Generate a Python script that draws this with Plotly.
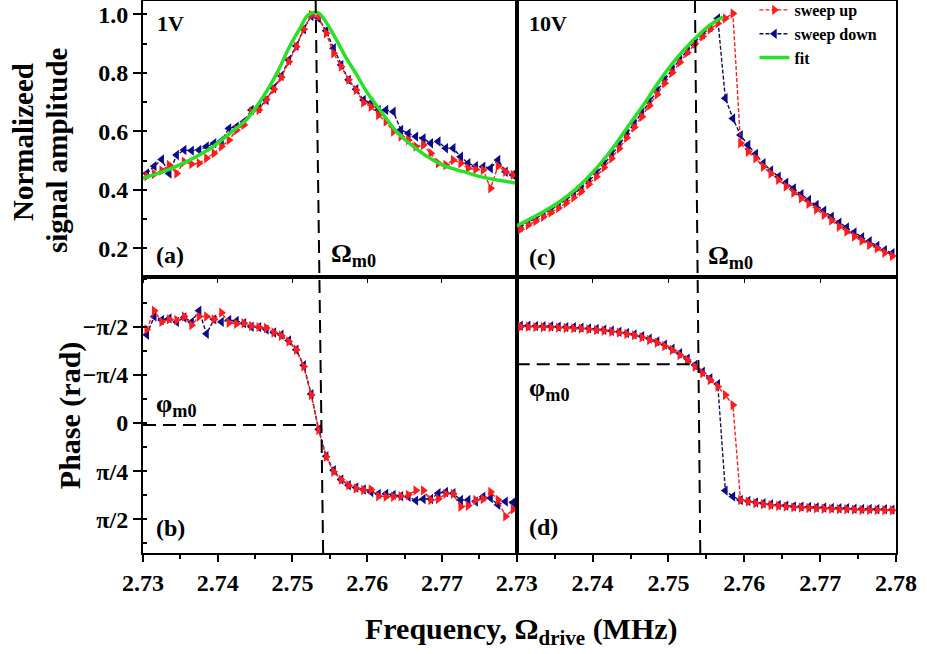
import plotly.graph_objects as go

# ---------------- data ----------------
freq = [2.7305, 2.7315, 2.7325, 2.7335, 2.7345, 2.7355, 2.7365, 2.7375, 2.7385, 2.7395,
        2.7405, 2.7415, 2.7425, 2.7435, 2.7445, 2.7455, 2.7465, 2.7475, 2.7485, 2.7495,
        2.7505, 2.7515, 2.7525, 2.7535, 2.7545, 2.7555, 2.7565, 2.7575, 2.7585, 2.7595,
        2.7605, 2.7615, 2.7625, 2.7635, 2.7645, 2.7655, 2.7665, 2.7675, 2.7685, 2.7695,
        2.7705, 2.7715, 2.7725, 2.7735, 2.7745, 2.7755, 2.7765, 2.7775, 2.7785, 2.7795]

amp_1V_up = [0.447, 0.454, 0.466, 0.485, 0.456, 0.496, 0.488, 0.491, 0.508, 0.525,
             0.548, 0.570, 0.604, 0.622, 0.667, 0.673, 0.709, 0.744, 0.785, 0.838,
             0.889, 0.949, 0.998, 0.992, 0.935, 0.867, 0.821, 0.776, 0.741, 0.698,
             0.684, 0.656, 0.633, 0.599, 0.582, 0.570, 0.548, 0.553, 0.525, 0.491,
             0.485, 0.502, 0.491, 0.474, 0.470, 0.468, 0.405, 0.481, 0.462, 0.451]
amp_1V_down = [0.456, 0.481, 0.504, 0.456, 0.519, 0.536, 0.534, 0.536, 0.548, 0.559,
               0.568, 0.610, 0.616, 0.633, 0.673, 0.679, 0.707, 0.747, 0.789, 0.844,
               0.892, 0.949, 0.994, 0.986, 0.944, 0.884, 0.827, 0.776, 0.744, 0.707,
               0.698, 0.673, 0.673, 0.667, 0.605, 0.593, 0.582, 0.576, 0.559, 0.565,
               0.542, 0.542, 0.513, 0.491, 0.481, 0.479, 0.474, 0.502, 0.462, 0.451]
fit_1V_freq = [2.7298, 2.7327, 2.7349, 2.7371, 2.7394, 2.7416, 2.7438, 2.7461, 2.7479, 2.7496,
               2.7510, 2.7521, 2.7534, 2.7546, 2.7559, 2.7572, 2.7586, 2.7599, 2.7617, 2.7639,
               2.7662, 2.7684, 2.7706, 2.7729, 2.7751, 2.7773, 2.7796, 2.7809]
fit_1V_amp = [0.439, 0.462, 0.485, 0.513, 0.548, 0.593, 0.639, 0.719, 0.798, 0.889,
              0.952, 0.998, 1.006, 0.969, 0.912, 0.850, 0.793, 0.736, 0.673, 0.599,
              0.548, 0.508, 0.479, 0.462, 0.445, 0.434, 0.424, 0.417]

amp_10V_up = [0.265, 0.280, 0.293, 0.308, 0.322, 0.338, 0.355, 0.374, 0.394, 0.419,
              0.445, 0.476, 0.507, 0.541, 0.578, 0.614, 0.650, 0.688, 0.726, 0.764,
              0.801, 0.836, 0.869, 0.899, 0.924, 0.949, 0.969, 0.986, 1.003, 0.559,
              0.530, 0.508, 0.479, 0.456, 0.434, 0.411, 0.390, 0.371, 0.352, 0.333,
              0.314, 0.295, 0.274, 0.257, 0.240, 0.226, 0.211, 0.200, 0.185, 0.174]
amp_10V_down = [0.274, 0.289, 0.303, 0.317, 0.331, 0.348, 0.366, 0.386, 0.405, 0.430,
                0.456, 0.487, 0.519, 0.553, 0.591, 0.626, 0.663, 0.700, 0.738, 0.776,
                0.812, 0.846, 0.878, 0.907, 0.932, 0.956, 0.986, 0.713, 0.644, 0.587,
                0.553, 0.523, 0.491, 0.466, 0.445, 0.424, 0.405, 0.385, 0.365, 0.348,
                0.329, 0.308, 0.288, 0.271, 0.254, 0.238, 0.224, 0.208, 0.194, 0.183]
fit_10V_freq = [2.7298, 2.7335, 2.7357, 2.7379, 2.7401, 2.7423, 2.7445, 2.7467, 2.7489,
                2.7511, 2.7533, 2.7555, 2.7572]
fit_10V_amp = [0.274, 0.325, 0.360, 0.405, 0.462, 0.530, 0.610, 0.690, 0.775,
               0.850, 0.912, 0.964, 0.992]

# phase in units of pi
phase_1V_up = [-0.486, -0.583, -0.525, -0.538, -0.535, -0.553, -0.508, -0.553, -0.553, -0.538,
               -0.573, -0.520, -0.515, -0.518, -0.503, -0.498, -0.493, -0.470, -0.453, -0.423,
               -0.380, -0.293, -0.145, 0.036, 0.175, 0.253, 0.295, 0.323, 0.340, 0.348,
               0.345, 0.380, 0.383, 0.383, 0.380, 0.373, 0.350, 0.350, 0.400, 0.395,
               0.368, 0.368, 0.435, 0.430, 0.400, 0.395, 0.358, 0.400, 0.485, 0.448]
phase_1V_down = [-0.458, -0.553, -0.535, -0.543, -0.525, -0.548, -0.525, -0.583, -0.463, -0.538,
                 -0.525, -0.535, -0.530, -0.518, -0.500, -0.498, -0.485, -0.470, -0.458, -0.428,
                 -0.380, -0.300, -0.150, 0.033, 0.173, 0.245, 0.293, 0.323, 0.335, 0.345,
                 0.358, 0.368, 0.368, 0.373, 0.380, 0.383, 0.403, 0.395, 0.395, 0.365,
                 0.358, 0.365, 0.400, 0.400, 0.408, 0.383, 0.390, 0.425, 0.408, 0.413]
phase_10V_up = [-0.500, -0.500, -0.498, -0.497, -0.497, -0.495, -0.493, -0.491, -0.490, -0.486,
                -0.483, -0.479, -0.474, -0.469, -0.462, -0.455, -0.445, -0.431, -0.417, -0.400,
                -0.379, -0.353, -0.327, -0.292, -0.258, -0.223, -0.189, -0.145, -0.093, 0.400,
                0.408, 0.417, 0.422, 0.427, 0.431, 0.434, 0.438, 0.439, 0.441, 0.443,
                0.445, 0.446, 0.448, 0.448, 0.450, 0.452, 0.452, 0.452, 0.453, 0.453]
phase_10V_down = [-0.505, -0.505, -0.503, -0.502, -0.502, -0.500, -0.498, -0.497, -0.495, -0.491,
                  -0.488, -0.484, -0.479, -0.474, -0.467, -0.460, -0.450, -0.438, -0.424, -0.407,
                  -0.386, -0.362, -0.334, -0.301, -0.266, -0.232, -0.202, 0.351, 0.382, 0.400,
                  0.405, 0.412, 0.417, 0.422, 0.426, 0.429, 0.433, 0.434, 0.436, 0.438,
                  0.439, 0.441, 0.443, 0.443, 0.445, 0.446, 0.446, 0.448, 0.448, 0.450]

amp_ticks = [0.2, 0.4, 0.6, 0.8, 1.0]
amp_ticktext = ["0.2", "0.4", "0.6", "0.8", "1.0"]
phase_ticks = [-0.5, -0.25, 0.0, 0.25, 0.5]
phase_ticktext = ["\u2212\u03c0/2", "\u2212\u03c0/4", "0", "\u03c0/4", "\u03c0/2"]
freq_ticks_left = [2.73, 2.74, 2.75, 2.76, 2.77]
freq_ticks_right = [2.73, 2.74, 2.75, 2.76, 2.77, 2.78]

resonance_1V = [2.7541, 2.7531]      # bottom, top of the dashed marker
resonance_10V = [2.7542, 2.7535]
phase_m0_1V = 0.0104
phase_m0_10V = -0.3045

# ---------------- styling ----------------
FONT = "Liberation Serif"
RED = "#ff1c1c"
NAVY = "#0a0a8c"
NAVY_LINE = "#10104a"
GREEN = "#28e028"
SPLIT = 0.4963

fig = go.Figure()


def add_panel(xa, ya, up, down, show):
    fig.add_trace(go.Scatter(
        x=freq, y=down, xaxis=xa, yaxis=ya, mode="lines+markers", name="sweep down",
        line=dict(color=NAVY_LINE, width=1.4, dash="4px,2px"),
        marker=dict(symbol="triangle-left", size=9, color=NAVY),
        showlegend=show, legendrank=2))
    fig.add_trace(go.Scatter(
        x=freq, y=up, xaxis=xa, yaxis=ya, mode="lines+markers", name="sweep up",
        line=dict(color=RED, width=1.4, dash="4px,2px"),
        marker=dict(symbol="triangle-right", size=9, color=RED),
        showlegend=show, legendrank=1))


add_panel("x", "y", amp_1V_up, amp_1V_down, False)
fig.add_trace(go.Scatter(x=fit_1V_freq, y=fit_1V_amp, xaxis="x", yaxis="y", mode="lines",
                         line=dict(color=GREEN, width=3.5, shape="spline"), name="fit",
                         showlegend=False))
add_panel("x2", "y2", amp_10V_up, amp_10V_down, True)
fig.add_trace(go.Scatter(x=fit_10V_freq, y=fit_10V_amp, xaxis="x2", yaxis="y2", mode="lines",
                         line=dict(color=GREEN, width=3.5, shape="spline"), name="fit",
                         showlegend=True, legendrank=3))
add_panel("x3", "y3", phase_1V_up, phase_1V_down, False)
add_panel("x4", "y4", phase_10V_up, phase_10V_down, False)

tickfont = dict(family=FONT, size=24, color="black", weight="bold")
frame = dict(showline=True, linecolor="black", linewidth=2, mirror=True,
             showgrid=False, zeroline=False)

xcommon = dict(range=[2.73, 2.78], **frame)
fig.update_layout(
    xaxis=dict(domain=[0, SPLIT], anchor="y", showticklabels=False, ticks="outside",
               ticklen=4, tickvals=freq_ticks_left + [2.78], tickcolor="black", **xcommon),
    xaxis2=dict(domain=[SPLIT, 1], anchor="y2", showticklabels=False, ticks="outside",
                ticklen=4, tickvals=freq_ticks_right, tickcolor="black", **xcommon),
    xaxis3=dict(domain=[0, SPLIT], anchor="y3", tickvals=freq_ticks_left,
                ticktext=["%.2f" % v for v in freq_ticks_left], ticks="outside", ticklen=7,
                tickwidth=1.5, tickcolor="black", tickfont=tickfont,
                minor=dict(ticks="outside", ticklen=4, dtick=0.005, tickcolor="black"),
                **xcommon),
    xaxis4=dict(domain=[SPLIT, 1], anchor="y4", tickvals=freq_ticks_right,
                ticktext=["%.2f" % v for v in freq_ticks_right], ticks="outside", ticklen=7,
                tickwidth=1.5, tickcolor="black", tickfont=tickfont,
                minor=dict(ticks="outside", ticklen=4, dtick=0.005, tickcolor="black"),
                **xcommon),
    yaxis=dict(domain=[0.5, 1], anchor="x", range=[0.102, 1.0455], tickvals=amp_ticks,
               ticktext=amp_ticktext, ticks="outside", ticklen=8, tickwidth=1.5,
               tickcolor="black", tickfont=tickfont,
               minor=dict(ticks="inside", ticklen=4, dtick=0.1, tick0=0.1, tickcolor="black"),
               **frame),
    yaxis2=dict(domain=[0.5, 1], anchor="x2", range=[0.102, 1.0455], showticklabels=False,
                **frame),
    yaxis3=dict(domain=[0, 0.5], anchor="x3", range=[0.675, -0.758], tickvals=phase_ticks,
                ticktext=phase_ticktext, ticks="outside", ticklen=8, tickwidth=1.5,
                tickcolor="black", tickfont=tickfont,
                minor=dict(ticks="inside", ticklen=4, dtick=0.125, tick0=0.125,
                           tickcolor="black"),
                **frame),
    yaxis4=dict(domain=[0, 0.5], anchor="x4", range=[0.675, -0.758], showticklabels=False,
                **frame),
)

dash = dict(color="black", width=2, dash="13px,7px")
fig.add_shape(type="line", xref="x3", yref="paper", x0=resonance_1V[0], y0=0,
              x1=resonance_1V[1], y1=1, line=dash)
fig.add_shape(type="line", xref="x4", yref="paper", x0=resonance_10V[0], y0=0,
              x1=resonance_10V[1], y1=1, line=dash)
fig.add_shape(type="line", xref="x3", yref="y3", x0=2.73, x1=resonance_1V[1] + 0.0003,
              y0=phase_m0_1V, y1=phase_m0_1V, line=dash)
fig.add_shape(type="line", xref="x4", yref="y4", x0=2.73, x1=resonance_10V[1],
              y0=phase_m0_10V, y1=phase_m0_10V, line=dash)


def note(text, x, y, size, angle=0, xanchor="left"):
    fig.add_annotation(text=text, x=x, y=y, xref="paper", yref="paper", showarrow=False,
                       xanchor=xanchor, yanchor="middle", textangle=angle,
                       font=dict(family=FONT, size=size, color="black", weight="bold"))


note("1V", 0.0159, 0.959, 22)
note("10V", 0.510, 0.959, 22)
note("(a)", 0.0146, 0.540, 24)
note("(c)", 0.510, 0.536, 24)
note("(b)", 0.0146, 0.0453, 24)
note("(d)", 0.510, 0.047, 24)
note("\u03a9<sub>m0</sub>", 0.247, 0.540, 26)
note("\u03a9<sub>m0</sub>", 0.7477, 0.536, 26)
note("\u03c6<sub>m0</sub>", 0.0146, 0.268, 26)
note("\u03c6<sub>m0</sub>", 0.510, 0.297, 26)
note("Normalizeed", -0.1594, 0.7446, 29, -90, "center")
note("signal amplitude", -0.1142, 0.730, 29, -90, "center")
note("Phase (rad)", -0.0969, 0.248, 30, -90, "center")
note("Frequency, \u03a9<sub>drive</sub> (MHz)", 0.5033, -0.1413, 30, 0, "center")

fig.update_layout(
    width=933, height=654,
    margin=dict(l=143, r=37, t=1, b=101, autoexpand=False),
    paper_bgcolor="white", plot_bgcolor="white",
    font=dict(family=FONT, color="black", weight="bold"),
    showlegend=True,
    legend=dict(x=0.812, y=1.0145, xanchor="left", yanchor="top", bgcolor="rgba(0,0,0,0)",
                font=dict(family=FONT, size=16, color="black", weight="bold"),
                tracegroupgap=0, itemwidth=30),
)

fig.write_html("out.html", config={"displayModeBar": False},
               post_script="document.body.style.margin='0';document.body.style.overflow='hidden';")
